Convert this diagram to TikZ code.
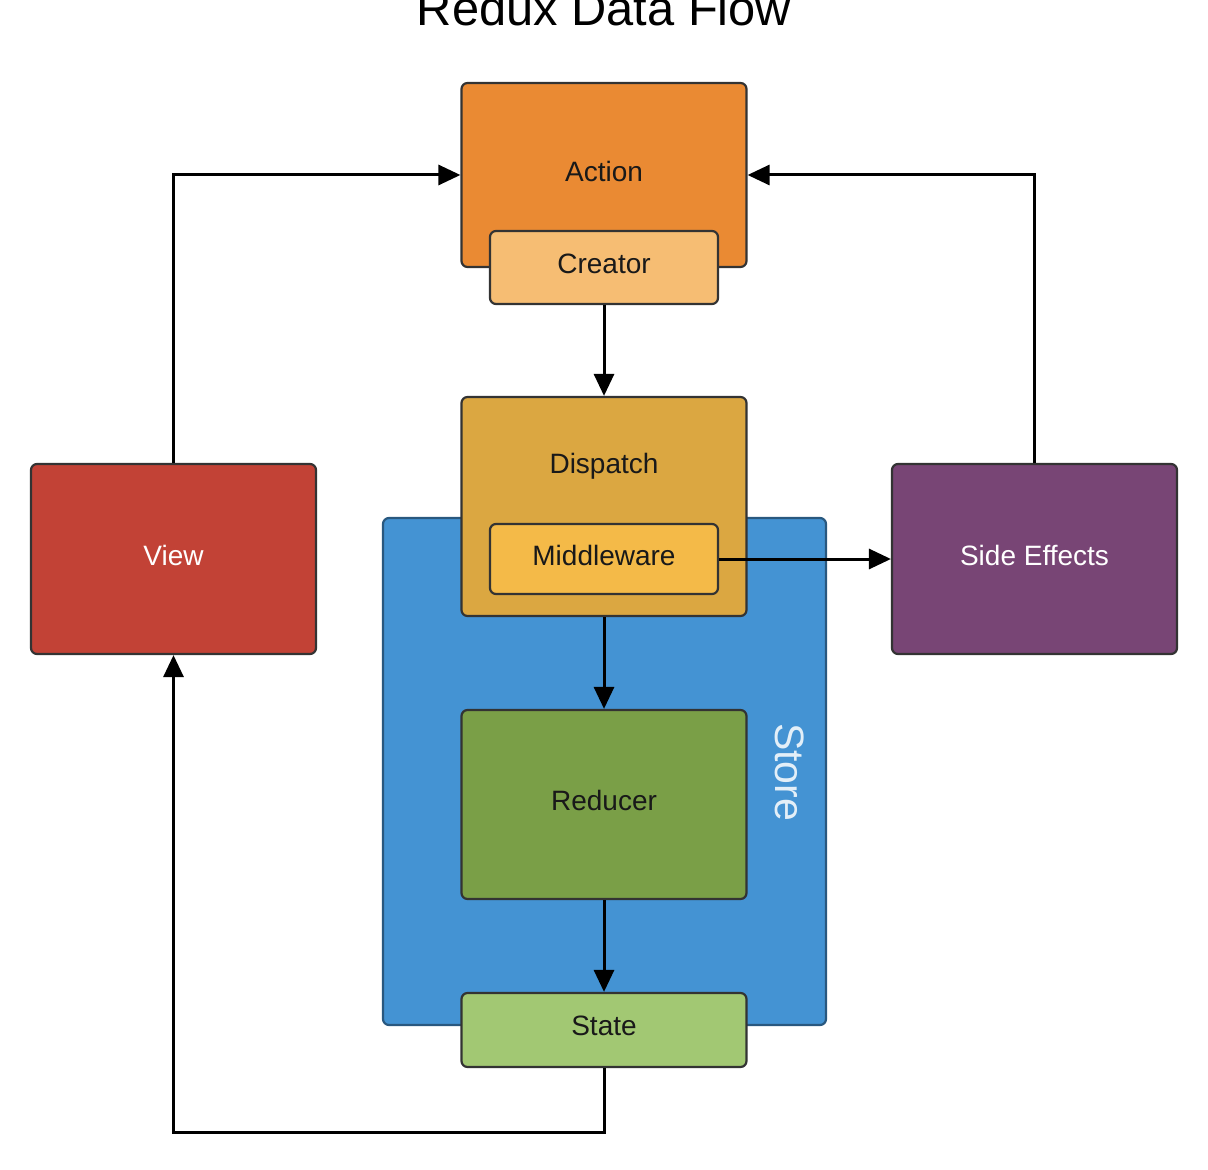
\documentclass[tikz,border=0pt]{standalone}
\usepackage{fontspec}
\setmainfont{Liberation Sans}
\usetikzlibrary{arrows.meta}
\definecolor{actionc}{HTML}{EA8A33}
\definecolor{creatorc}{HTML}{F6BD73}
\definecolor{dispatchc}{HTML}{DBA741}
\definecolor{middlec}{HTML}{F4BA48}
\definecolor{storec}{HTML}{4493D3}
\definecolor{reducerc}{HTML}{7A9F47}
\definecolor{statec}{HTML}{A2C873}
\definecolor{viewc}{HTML}{C24236}
\definecolor{sidec}{HTML}{784575}
\begin{document}
\begin{tikzpicture}[x=0.5pt,y=-0.5pt,
  box/.style={draw=black!80, line width=1.1pt, rounded corners=3pt, text depth=4pt,
    font=\fontsize{14}{16}\selectfont, text=black!90},
  bigbox/.style={box, minimum width=142.5pt},
  smallbox/.style={box, minimum width=114pt},
  flow/.style={line width=1.5pt, -{Triangle[length=11pt,width=10pt]}}]
\useasboundingbox (0,0) rectangle (1208,1170);
\node[font=\fontsize{24.4}{28}\selectfont, anchor=base] (title) at (604,26) {Redux Data Flow};
\node[bigbox, fill=actionc, minimum height=92pt] (action) at (604,175) {Action};
\node[smallbox, fill=creatorc, minimum height=36.5pt] (creator) at (604,267.5) {Creator};
\node[box, fill=storec, draw=storec!60!black, minimum width=221.5pt, minimum height=253.5pt] (store) at (604.5,771.5) {};
\node[rotate=-90, font=\fontsize{20.5}{24}\selectfont, text=white!85!storec] (storelabel) at (790,772) {Store};
\node[bigbox, fill=dispatchc, minimum height=109.5pt] (dispatch) at (604,506.5) {};
\node[font=\fontsize{14}{16}\selectfont, text=black!90] (dispatchlabel) at (604,466) {Dispatch};
\node[smallbox, fill=middlec, minimum height=35pt] (middleware) at (604,559) {Middleware};
\node[bigbox, fill=reducerc, minimum height=94.5pt] (reducer) at (604,804.5) {Reducer};
\node[bigbox, fill=statec, minimum height=37pt] (state) at (604,1030) {State};
\node[bigbox, fill=viewc, minimum height=95pt, text=white] (view) at (173.5,559) {View};
\node[bigbox, fill=sidec, minimum height=95pt, text=white] (side) at (1034.5,559) {Side Effects};
\draw[flow] (creator.south) -- (dispatch.north);
\draw[flow] (dispatch.south) -- (reducer.north);
\draw[flow] (reducer.south) -- (state.north);
\draw[flow] (middleware.east) -- (side.west);
\draw[flow] (view.north) |- (action.west);
\draw[flow] (side.north) |- (action.east);
\draw[flow] (state.south) -- ++(0,64) -| (view.south);
\end{tikzpicture}
\end{document}
